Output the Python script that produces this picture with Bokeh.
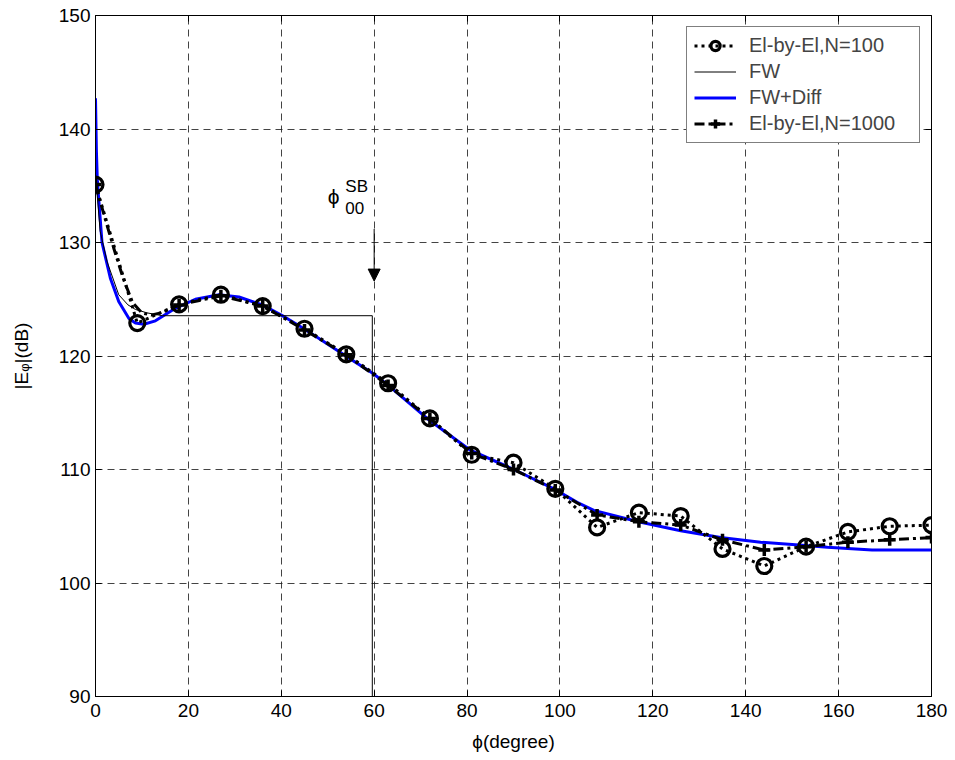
import numpy as np
from bokeh.plotting import figure
from bokeh.models import (FixedTicker, LinearAxis, Legend, LegendItem, Label, Arrow,
                          NormalHead, Range1d)
from bokeh.embed import file_html
from bokeh.resources import INLINE

# ---------------- data ----------------
phi_el = [0, 9, 18, 27, 36, 45, 54, 63, 72, 81, 90, 99, 108, 117, 126, 135, 144, 153, 162, 171, 180]
e_n100 = [135.1, 122.9, 124.55, 125.4, 124.4, 122.4, 120.15, 117.6, 114.5, 111.3, 110.6, 108.3,
          104.9, 106.2, 105.9, 103.0, 101.5, 103.2, 104.5, 105.0, 105.1]

phi_n1000 = [0, 2, 4, 6, 8, 10, 12, 14, 16, 18, 27, 36, 45, 54, 63, 72, 81, 90, 99, 108, 117, 126,
             135, 144, 153, 162, 171, 180]
e_n1000 = [135.1, 132.2, 129.4, 126.8, 124.7, 123.8, 123.6, 123.8, 124.1, 124.5, 125.3, 124.4,
           122.3, 120.1, 117.4, 114.5, 111.4, 110.0, 108.2, 106.0, 105.4, 105.1, 103.8, 102.9,
           103.2, 103.6, 103.8, 104.0]

phi_fw = [0, 1, 2.5, 5, 7, 8.6, 11.1, 14.4, 59.6, 59.6]
e_fw = [136.0, 131.0, 128.3, 125.4, 124.5, 124.1, 123.8, 123.55, 123.55, 80.0]

phi_fd = [0, 0.2, 0.4, 1.4, 3.2, 5.0, 7.2, 8.6, 10.4, 12.9, 17.2, 21.5, 26.6, 30.9, 35.9, 40.9,
          44.9, 53.5, 59.6, 62.8, 71.4, 80.7, 90.1, 98.7, 103.7, 107.3, 116.9, 126, 134.6, 143.2,
          152.9, 157.6, 167.2, 180]
e_fd = [142.7, 138.0, 135.4, 130.0, 126.85, 124.8, 123.3, 122.9, 122.8, 123.1, 124.2, 125.0,
        125.4, 125.2, 124.5, 123.4, 122.4, 120.1, 118.5, 117.5, 114.5, 111.7, 110.0, 108.3,
        107.1, 106.4, 105.4, 104.6, 104.0, 103.6, 103.3, 103.15, 102.9, 102.9]

x_ticks = [0, 20, 40, 60, 80, 100, 120, 140, 160, 180]
y_ticks = [90, 100, 110, 120, 130, 140, 150]
legend_labels = ["El-by-El,N=100", "FW", "FW+Diff", "El-by-El,N=1000"]

# markers of the N=1000 series sit on the 9-degree grid
mk_phi = [p_ for p_ in phi_n1000 if p_ % 9 == 0]
mk_e = [e for p_, e in zip(phi_n1000, e_n1000) if p_ % 9 == 0]

FONT = "Liberation Sans"

p = figure(width=955, height=760, x_range=Range1d(0, 180), y_range=Range1d(90, 150),
           output_backend="svg", toolbar_location=None,
           min_border_left=95, min_border_right=24, min_border_top=15, min_border_bottom=64)
p.background_fill_color = "white"
p.border_fill_color = "white"
p.outline_line_color = "black"
p.outline_line_width = 1

# grid
for g in (p.xgrid, p.ygrid):
    g.grid_line_color = "#222222"
    g.grid_line_alpha = 0.85
    g.grid_line_dash = "7 5"
    g.grid_line_width = 1
p.xgrid.ticker = FixedTicker(ticks=x_ticks)
p.ygrid.ticker = FixedTicker(ticks=y_ticks)

# axes
p.xaxis.ticker = FixedTicker(ticks=x_ticks)
p.yaxis.ticker = FixedTicker(ticks=y_ticks)
for ax in (p.xaxis[0], p.yaxis[0]):
    ax.major_label_text_font = FONT
    ax.major_label_text_font_size = "19px"
    ax.major_label_text_color = "black"
    ax.axis_line_color = "black"
    ax.major_tick_line_color = "black"
    ax.major_tick_in = 6
    ax.major_tick_out = 0
    ax.minor_tick_in = 0
    ax.minor_tick_out = 0
    ax.axis_label_text_font = FONT
    ax.axis_label_text_font_size = "19px"
    ax.axis_label_text_font_style = "normal"
    ax.axis_label_text_color = "black"
p.xaxis.major_label_standoff = 7
p.yaxis.major_label_standoff = 5
p.xaxis.axis_label = "ϕ(degree)"
p.xaxis.axis_label_standoff = 11
p.yaxis.axis_label = "|Eᵩ|(dB)"
p.yaxis.axis_label_standoff = 24

for loc, tk in (("right", y_ticks), ("above", x_ticks)):
    ax = LinearAxis(ticker=FixedTicker(ticks=tk), major_label_text_font_size="0px",
                    major_label_text_color=None, axis_line_color=None,
                    major_tick_in=6, major_tick_out=0, minor_tick_in=0, minor_tick_out=0,
                    major_label_standoff=0)
    p.add_layout(ax, loc)

# series
r_fd = p.line(phi_fd, e_fd, line_color="#0000ff", line_width=3)
r_fw = p.line(phi_fw, e_fw, line_color="black", line_width=1)
r_n1000_l = p.line(phi_n1000, e_n1000, line_color="black", line_width=3, line_dash="10 4 3 4")
r_n1000_m = p.scatter(mk_phi, mk_e, marker="cross", size=12, line_color="black", line_width=3.5)
r_n100_l = p.line(phi_el, e_n100, line_color="black", line_width=3, line_dash="3 4")
r_n100_m = p.scatter(phi_el, e_n100, marker="circle", size=15, line_color="black",
                     line_width=3.2, fill_color=None)

legend = Legend(items=[
    LegendItem(label=legend_labels[0], renderers=[r_n100_l, r_n100_m]),
    LegendItem(label=legend_labels[1], renderers=[r_fw]),
    LegendItem(label=legend_labels[2], renderers=[r_fd]),
    LegendItem(label=legend_labels[3], renderers=[r_n1000_l, r_n1000_m]),
], location="top_right")
legend.label_text_font = FONT
legend.label_text_font_size = "20px"
legend.glyph_width = 42
legend.glyph_height = 23
legend.label_height = 23
legend.label_width = 163
legend.label_standoff = 13
legend.spacing = 3
legend.padding = 7
legend.margin = 11
legend.border_line_color = "black"
legend.border_line_width = 1
legend.background_fill_alpha = 1
p.add_layout(legend)

# annotation phi_00^SB with arrow
p.add_layout(Label(x=50.0, y=133.0, text="ϕ", text_font=FONT, text_font_size="21px",
                   text_color="black"))
p.add_layout(Label(x=53.8, y=134.1, text="SB", text_font=FONT, text_font_size="17px",
                   text_color="black"))
p.add_layout(Label(x=53.8, y=132.5, text="00", text_font=FONT, text_font_size="17px",
                   text_color="black"))
p.add_layout(Arrow(x_start=60, y_start=131.2, x_end=60, y_end=126.6, line_color="black",
                   line_width=1, end=NormalHead(size=12, fill_color="black", line_color="black")))

open("out.html", "w").write(file_html(p, INLINE))
